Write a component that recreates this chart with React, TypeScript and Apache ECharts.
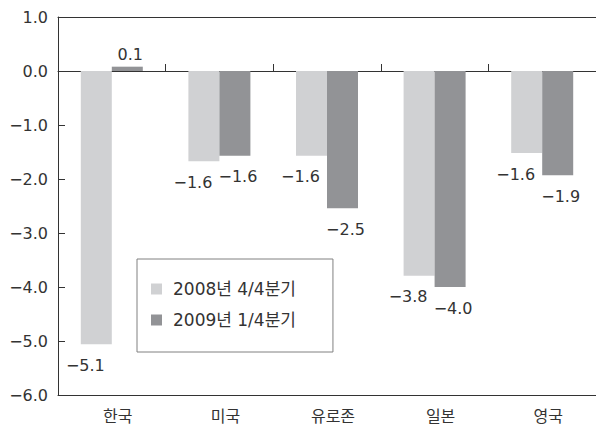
import React, { useEffect, useRef } from "react";
import * as echarts from "echarts";

const categories = ["한국", "미국", "유로존", "일본", "영국"];
const seriesNames = ["2008년 4/4분기", "2009년 1/4분기"];
const values2008 = [-5.06, -1.67, -1.57, -3.79, -1.52];
const values2009 = [0.08, -1.57, -2.54, -4.0, -1.93];
const labels2008 = ["-5.1", "-1.6", "-1.6", "-3.8", "-1.6"];
const labels2009 = ["0.1", "-1.6", "-2.5", "-4.0", "-1.9"];
const yMin = -6;
const yMax = 1;
const yStep = 1;

const FONT = "'DejaVu Sans', 'Noto Sans CJK KR', sans-serif";
const TEXT = "#333";
const AXIS = "#333";
const LIGHT = "#d0d1d3";
const DARK = "#929396";

const minus = (s: string) => s.replace("-", "\u2212");

export default function App() {
  const ref = useRef<HTMLDivElement>(null);
  useEffect(() => {
    if (!ref.current) return;
    const chart = echarts.init(ref.current, undefined, { renderer: "svg" });
    const mkSeries = (name: string, values: number[], labels: string[], color: string, dx: number) => ({
      name,
      type: "bar",
      xAxisIndex: 0,
      barWidth: 31,
      barGap: "0%",
      itemStyle: { color },
      data: values.map((v) => ({
        value: v,
        label: { position: v >= 0 ? "top" : "bottom", distance: v >= 0 ? 4 : 13 },
      })),
      label: {
        show: true,
        offset: [dx, 0],
        fontFamily: FONT,
        fontSize: 16,
        color: TEXT,
        formatter: (p: any) => minus(labels[p.dataIndex]),
      },
    });
    chart.setOption({
      animation: false,
      backgroundColor: "#fff",
      textStyle: { fontFamily: FONT },
      grid: { left: 58, right: 0, top: 17, bottom: 30, containLabel: false },
      legend: {
        orient: "vertical",
        left: 137,
        top: 259,
        padding: [21, 37, 23, 14],
        itemGap: 13,
        itemWidth: 11,
        itemHeight: 11,
        icon: "rect",
        borderColor: "#808080",
        borderWidth: 1,
        textStyle: { fontFamily: FONT, fontSize: 17, lineHeight: 18, color: TEXT, padding: [0, 0, 0, 6] },
        data: seriesNames,
      },
      xAxis: [
        {
          type: "category",
          data: categories,
          position: "bottom",
          axisLine: { show: true, onZero: false, lineStyle: { color: AXIS, width: 1 } },
          axisTick: { show: false },
          axisLabel: { fontFamily: FONT, fontSize: 16, color: TEXT, margin: 13, padding: [0, 0, 0, 12] },
        },
        {
          type: "category",
          data: categories,
          position: "top",
          axisLine: { show: true, onZero: false, lineStyle: { color: AXIS, width: 1 } },
          axisTick: { show: false },
          axisLabel: { show: false },
        },
        {
          type: "category",
          data: categories,
          position: "bottom",
          axisLine: { show: true, onZero: true, lineStyle: { color: AXIS, width: 1 } },
          axisTick: { show: true, inside: true, length: 7, lineStyle: { color: AXIS, width: 1 } },
          axisLabel: { show: false },
        },
      ],
      yAxis: {
        type: "value",
        min: yMin,
        max: yMax,
        interval: yStep,
        axisLine: { show: true, lineStyle: { color: AXIS, width: 1 } },
        axisTick: { show: true, inside: true, length: 7, lineStyle: { color: AXIS, width: 1 } },
        splitLine: { show: false },
        axisLabel: {
          fontFamily: FONT,
          fontSize: 16,
          color: TEXT,
          margin: 10,
          formatter: (v: number) => minus(v.toFixed(1)),
        },
      },
      series: [
        mkSeries(seriesNames[0], values2008, labels2008, LIGHT, -11),
        mkSeries(seriesNames[1], values2009, labels2009, DARK, 3),
      ],
    });
    return () => chart.dispose();
  }, []);
  return (
    <div
      ref={ref}
      style={{ position: "absolute", left: 0, top: 0, width: 596, height: 425 }}
    />
  );
}
